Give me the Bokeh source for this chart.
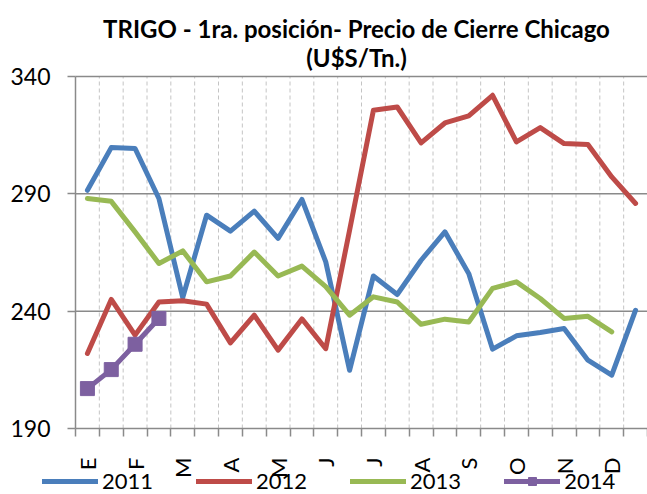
import math
from bokeh.plotting import figure
from bokeh.models import (FixedTicker, Range1d, Legend, LegendItem, LinearAxis, Label)
from bokeh.embed import file_html
from bokeh.resources import INLINE

# ---- data (semi-monthly closing prices, U$S/Tn) ----
months = ["E", "F", "M", "A", "M", "J", "J", "A", "S", "O", "N", "D"]
y_ticks = [190, 240, 290, 340]

s2011 = [291.5, 309.7, 309.3, 288.0, 245.8, 280.9, 274.1, 282.6, 271.0, 287.6, 261.0, 214.8,
         255.0, 247.1, 261.7, 273.8, 256.0, 223.8, 229.5, 230.9, 232.6, 219.1, 212.7, 240.4]
s2012 = [222.0, 245.0, 229.8, 243.9, 244.4, 243.0, 226.5, 238.3, 223.4, 236.7, 224.0, 274.5,
         325.6, 327.0, 311.7, 320.2, 323.2, 332.0, 312.1, 318.2, 311.4, 311.0, 297.2, 285.9]
s2013 = [288.0, 286.8, 273.8, 260.3, 265.7, 252.5, 255.0, 265.2, 255.0, 259.2, 250.5, 238.3,
         246.1, 243.9, 234.4, 236.6, 235.4, 249.7, 252.5, 245.4, 236.9, 237.8, 231.2]
s2014 = [207.0, 215.1, 225.9, 236.9]

series = [("2011", s2011, "#4a7ebb"), ("2012", s2012, "#be4b48"),
          ("2013", s2013, "#98b954"), ("2014", s2014, "#7d60a0")]

title1 = "TRIGO - 1ra. posición- Precio de Cierre Chicago"
title2 = "(U$S/Tn.)"

FONT = "Lato"
GRID = "#8a8a8a"

# ---- page geometry (pixels) ----
W, H = 647, 494
PL, PR, PT, PB = 75, 647, 76, 428   # plot-area box inside the canvas

n_slots = 2 * len(months)            # 24 half-month slots
x_lo, x_hi = 0, 2 * n_slots          # slot boundaries at even numbers
y_lo, y_hi = y_ticks[0], y_ticks[-1]

xpp = (x_hi - x_lo) / (PR - PL)
ypp = (y_hi - y_lo) / (PB - PT)
x_range = Range1d(x_lo - PL * xpp, x_hi + (W - PR) * xpp)
y_range = Range1d(y_lo - (H - PB) * ypp, y_hi + PT * ypp)


def xs(n):
    # slot i centred at 2*i+1
    return [2 * i + 1 for i in range(n)]


p = figure(width=W, height=H, output_backend="svg", toolbar_location=None,
           title=None, x_axis_type=None, y_axis_type=None,
           x_range=x_range, y_range=y_range,
           min_border=0, min_border_left=0, min_border_right=0,
           min_border_top=0, min_border_bottom=0)
p.outline_line_color = None
p.background_fill_color = "white"
p.grid.visible = False

# ---- grid lines (drawn first, under the data) ----
bounds = list(range(x_lo, x_hi + 1, 2))
vb = [b for b in bounds if b != x_lo]
p.segment(x0=vb, y0=[y_lo] * len(vb), x1=vb, y1=[y_hi] * len(vb),
          line_color="#c4c4c4", line_width=1, line_dash="4 3")
hb = [t for t in y_ticks if t != y_lo]
p.segment(x0=[x_lo] * len(hb), y0=hb, x1=[x_hi] * len(hb), y1=hb,
          line_color=GRID, line_width=1.5)

# ---- axes ----
label_pos = [4 * k + 1 for k in range(len(months))]
xaxis = LinearAxis(fixed_location=y_lo, bounds=(x_lo, x_hi),
                   ticker=FixedTicker(ticks=label_pos, minor_ticks=bounds))
xaxis.major_label_overrides = {pos: m for pos, m in zip(label_pos, months)}
xaxis.major_label_orientation = math.pi / 2
xaxis.major_tick_out = 0
xaxis.major_tick_in = 0
xaxis.minor_tick_out = 8
xaxis.minor_tick_in = 0
xaxis.minor_tick_line_color = GRID
xaxis.minor_tick_line_width = 1.5
xaxis.axis_line_color = GRID
xaxis.axis_line_width = 1.5
xaxis.major_label_standoff = 21
xaxis.major_label_text_font = FONT
xaxis.major_label_text_font_size = "22px"
xaxis.major_label_text_color = "black"
p.add_layout(xaxis, "below")

yaxis = LinearAxis(fixed_location=x_lo, bounds=(y_lo, y_hi),
                   ticker=FixedTicker(ticks=y_ticks, minor_ticks=[]))
yaxis.major_tick_out = 8
yaxis.major_tick_in = 0
yaxis.minor_tick_out = 0
yaxis.minor_tick_in = 0
yaxis.major_tick_line_color = GRID
yaxis.major_tick_line_width = 1.5
yaxis.axis_line_color = GRID
yaxis.axis_line_width = 1.5
yaxis.major_label_standoff = 17
yaxis.major_label_text_font = FONT
yaxis.major_label_text_font_size = "23px"
yaxis.major_label_text_color = "black"
p.add_layout(yaxis, "left")

# ---- series ----
items = []
for name, vals, col in series:
    r = p.line(xs(len(vals)), vals, line_color=col, line_width=5,
               line_join="round", line_cap="round")
    rs = [r]
    if name == "2014":
        m = p.scatter(xs(len(vals)), vals, marker="square", size=14,
                      fill_color=col, line_color=col)
        rs.append(m)
    items.append(LegendItem(label=name, renderers=rs))

legend = Legend(items=items, orientation="horizontal", location=(42, 0),
                border_line_color=None, background_fill_alpha=0,
                padding=0, margin=0, spacing=43, glyph_width=56, glyph_height=20,
                label_height=20, label_standoff=4, label_text_font=FONT,
                label_text_font_size="22px", label_text_color="black")
p.add_layout(legend)

# ---- title (two centred lines) ----
for txt, cy in [(title1, 28), (title2, 57)]:
    p.add_layout(Label(x=356, y=H - cy, x_units="screen", y_units="screen", text=txt,
                       text_align="center", text_baseline="middle", text_font=FONT,
                       text_font_size="24px", text_font_style="bold", text_color="black"))

open("out.html", "w").write(file_html(p, INLINE))
